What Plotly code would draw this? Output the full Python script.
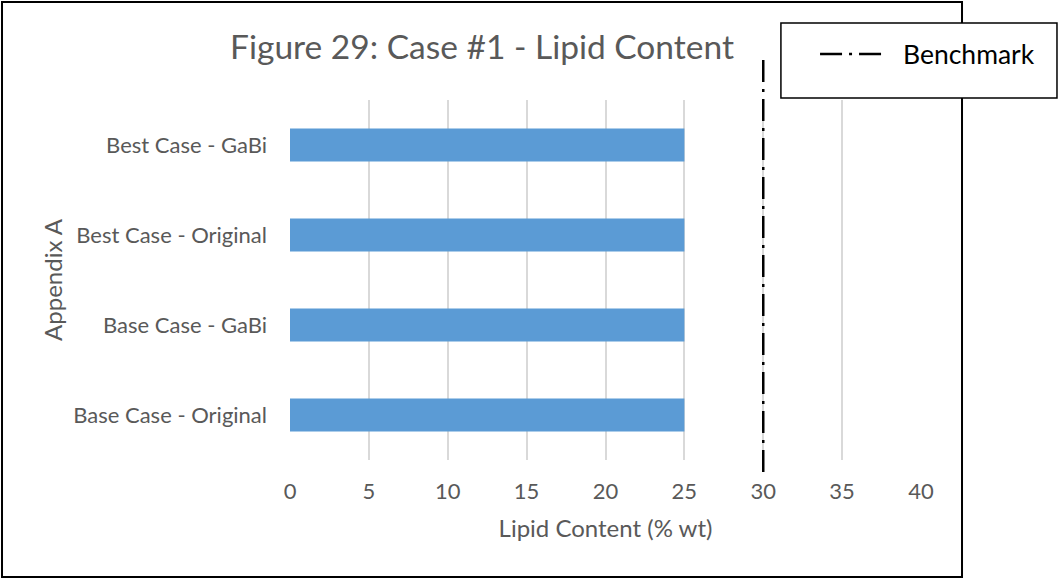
import plotly.graph_objects as go

# chart data
categories = ["Base Case - Original", "Base Case - GaBi", "Best Case - Original", "Best Case - GaBi"]
lipid_values = [25, 25, 25, 25]
benchmark_value = 30
benchmark_name = "Benchmark"
x_ticks = [0, 5, 10, 15, 20, 25, 30, 35, 40]

FONT = "Lato"
GREY = "#595959"
DASHDOT = "22px,7px,3px,7px"

fig = go.Figure()

fig.add_trace(go.Bar(
    x=lipid_values,
    y=categories,
    orientation="h",
    marker=dict(color="#5B9BD5", line=dict(width=0)),
    showlegend=False,
))

# outer chart border
fig.add_shape(type="rect", xref="paper", yref="paper",
              x0=-0.4564, x1=1.065, y0=-0.325, y1=1.272,
              line=dict(color="black", width=2), fillcolor="rgba(0,0,0,0)", layer="below")

# benchmark line, sticks out of the plot area a bit like in Excel
fig.add_shape(type="line", xref="x", yref="paper",
              x0=benchmark_value, x1=benchmark_value, y0=-0.033, y1=1.117,
              line=dict(color="black", width=2.5, dash=DASHDOT))

# legend box (drawn by hand so the sample line is as long as Excel's)
fig.add_shape(type="rect", xref="paper", yref="paper",
              x0=0.778, x1=1.2155, y0=1.0056, y1=1.214,
              line=dict(color="black", width=1.5), fillcolor="white", layer="above")
fig.add_shape(type="line", xref="paper", yref="paper",
              x0=0.840, x1=0.9477, y0=1.128, y1=1.128,
              line=dict(color="black", width=2.5, dash=DASHDOT), layer="above")
fig.add_annotation(text=benchmark_name, xref="paper", yref="paper", x=0.968, y=1.128,
                   xanchor="left", yanchor="middle", showarrow=False,
                   font=dict(size=26.5, color="black", family=FONT))

fig.update_layout(
    width=1059, height=579,
    margin=dict(l=290, r=138, t=100, b=119),
    paper_bgcolor="white", plot_bgcolor="white",
    font=dict(family=FONT, color=GREY, size=22),
    title=dict(text="Figure 29: Case #1 - Lipid Content", x=482 / 1059, xanchor="center",
               y=1 - 47 / 579, yanchor="middle", font=dict(size=33.5, color=GREY, family=FONT)),
    bargap=0.633,
    showlegend=False,
    xaxis=dict(
        range=[0, 40], tickvals=x_ticks, showgrid=True, gridcolor="#D9D9D9", gridwidth=1.5,
        zeroline=False, showline=False, ticklabelstandoff=16,
        title=dict(text="Lipid Content (% wt)", font=dict(size=24, color=GREY), standoff=17),
    ),
    yaxis=dict(
        categoryorder="array", categoryarray=categories, showgrid=False, zeroline=False,
        showline=False, ticklabelstandoff=22,
        title=dict(text="Appendix A", font=dict(size=24, color=GREY), standoff=3),
    ),
)

fig.write_html("out.html", config={"displayModeBar": False},
               post_script="document.body.style.margin='0';")
